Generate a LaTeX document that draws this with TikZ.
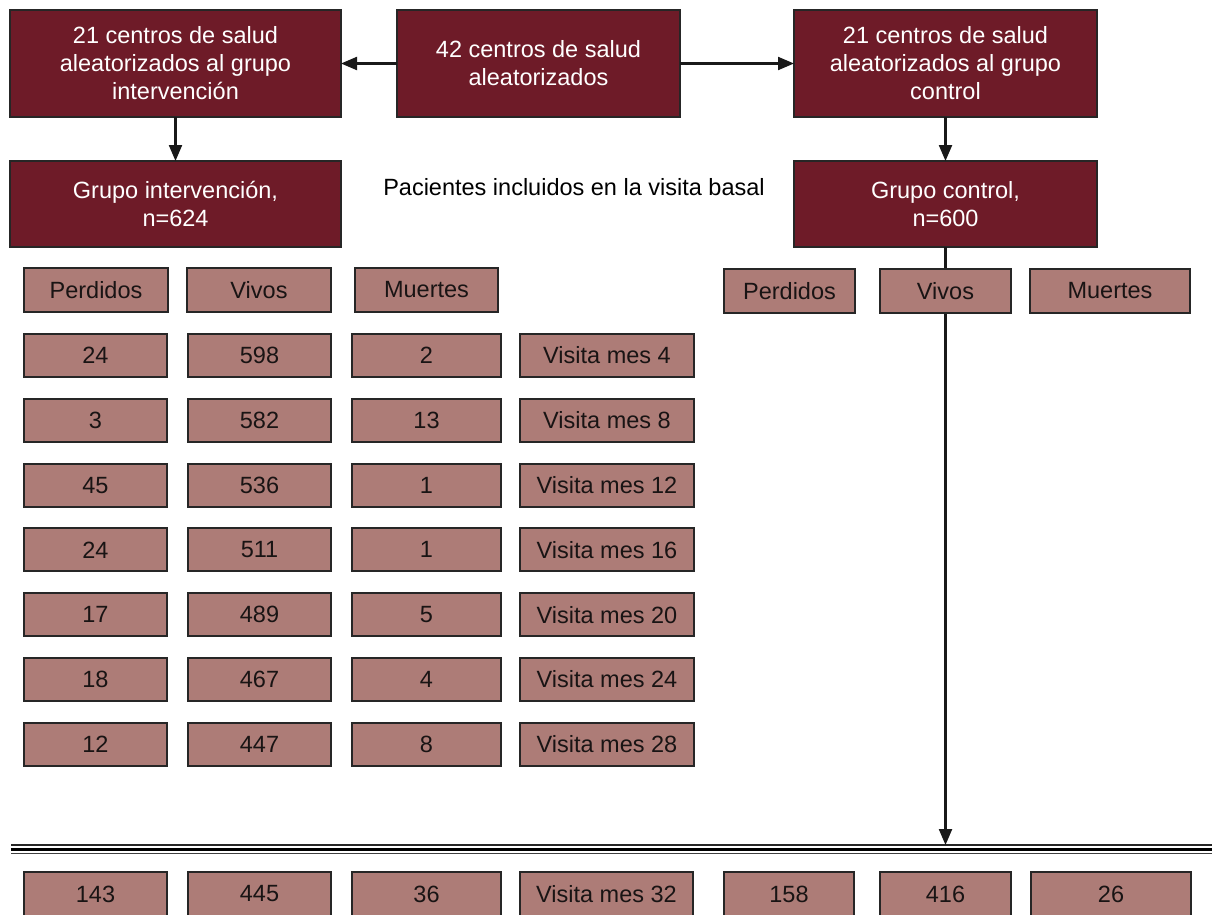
\documentclass[tikz,border=0pt]{standalone}
\usepackage{fontspec}
\setmainfont{Liberation Sans}
\usetikzlibrary{arrows.meta,backgrounds}
\definecolor{maroon}{RGB}{110,27,40}
\definecolor{rose}{RGB}{173,124,119}
\definecolor{ink}{RGB}{25,20,20}
\begin{document}
\begin{tikzpicture}[x=1pt,y=-1pt,
  every node/.style={font=\fontsize{23.5}{28}\selectfont, inner sep=0pt, outer sep=0pt},
  darkbox/.style={draw=black!85, fill=maroon, line width=2pt, text=white, align=center},
  lightbox/.style={draw=black!85, fill=rose, line width=2pt, text=ink, align=center, minimum height=43pt},
  arr/.style={line width=2.2pt, draw=black!90, -{Triangle[length=16pt,width=13pt]}}]
\useasboundingbox (0,0) rectangle (1212,915);

% dark boxes
\node[darkbox, minimum width=331pt, minimum height=107pt] (iv1) at (175.5,63.5) {21 centros de salud\\aleatorizados al grupo\\intervención};
\node[darkbox, minimum width=283pt, minimum height=107pt] (ctr) at (538.5,63.5) {42 centros de salud\\aleatorizados};
\node[darkbox, minimum width=303pt, minimum height=107pt] (cv1) at (945.5,63.5) {21 centros de salud\\aleatorizados al grupo\\control};
\node[darkbox, minimum width=331pt, minimum height=86pt] (iv2) at (175.5,204) {Grupo intervención,\\n=624};
\node[darkbox, minimum width=303pt, minimum height=86pt] (cv2) at (945.5,204) {Grupo control,\\n=600};
\node[text=black] (basal) at (574,187) {Pacientes incluidos en la visita basal};

% arrows
\draw[arr] (ctr.west) -- (iv1.east);
\draw[arr] (ctr.east) -- (cv1.west);
\draw[arr] (iv1.south) -- (iv2.north);
\draw[arr] (cv1.south) -- (cv2.north);

% headers
\node[lightbox, minimum width=144pt, minimum height=44pt] (hiP) at (96,290) {Perdidos};
\node[lightbox, minimum width=144pt, minimum height=44pt] (hiV) at (259,290) {Vivos};
\node[lightbox, minimum width=143pt, minimum height=44pt] (hiM) at (426.5,290) {Muertes};

% double line
\coordinate (dlL) at (11,845);
\coordinate (dlR) at (1212,845);
\draw[line width=1.5pt, black!85] (dlL) -- (dlR);
\draw[line width=2.4pt, black] ([yshift=-4.5pt]dlL) -- ([yshift=-4.5pt]dlR);
\draw[line width=1.5pt, black!75] ([yshift=-8.5pt]dlL) -- ([yshift=-8.5pt]dlR);
\coordinate (dlA) at (cv2.south |- dlL);

% control vertical line (behind Vivos box)
\draw[arr] (cv2.south) -- (dlA);

\node[lightbox, minimum width=131pt, minimum height=44pt] (hcP) at (789.5,291) {Perdidos};
\node[lightbox, minimum width=131pt, minimum height=44pt] (hcV) at (945.5,291) {Vivos};
\node[lightbox, minimum width=160pt, minimum height=44pt] (hcM) at (1110,291) {Muertes};

% data rows
\foreach \i/\p/\v/\m/\t in {1/24/598/2/4, 2/3/582/13/8, 3/45/536/1/12, 4/24/511/1/16, 5/17/489/5/20, 6/18/467/4/24, 7/12/447/8/28}{
  \pgfmathsetmacro{\yy}{355.5+64.8*(\i-1)}
  \node[lightbox, minimum width=143pt] (r\i p) at (95.5,\yy) {\p};
  \node[lightbox, minimum width=143pt] (r\i v) at (259.5,\yy) {\v};
  \node[lightbox, minimum width=149pt] (r\i m) at (426.5,\yy) {\m};
  \node[lightbox, minimum width=174pt] (r\i t) at (607,\yy) {Visita mes \t};
}

% bottom row
\node[lightbox, minimum width=143pt, minimum height=44pt] (bP) at (95.5,894) {143};
\node[lightbox, minimum width=143pt, minimum height=44pt] (bV) at (259.5,894) {445};
\node[lightbox, minimum width=149pt, minimum height=44pt] (bM) at (426.5,894) {36};
\node[lightbox, minimum width=173pt, minimum height=44pt] (bT) at (606.5,894) {Visita mes 32};
\node[lightbox, minimum width=130pt, minimum height=44pt] (bcP) at (789,894) {158};
\node[lightbox, minimum width=131pt, minimum height=44pt] (bcV) at (945.5,894) {416};
\node[lightbox, minimum width=160pt, minimum height=44pt] (bcM) at (1111,894) {26};
\end{tikzpicture}
\end{document}
